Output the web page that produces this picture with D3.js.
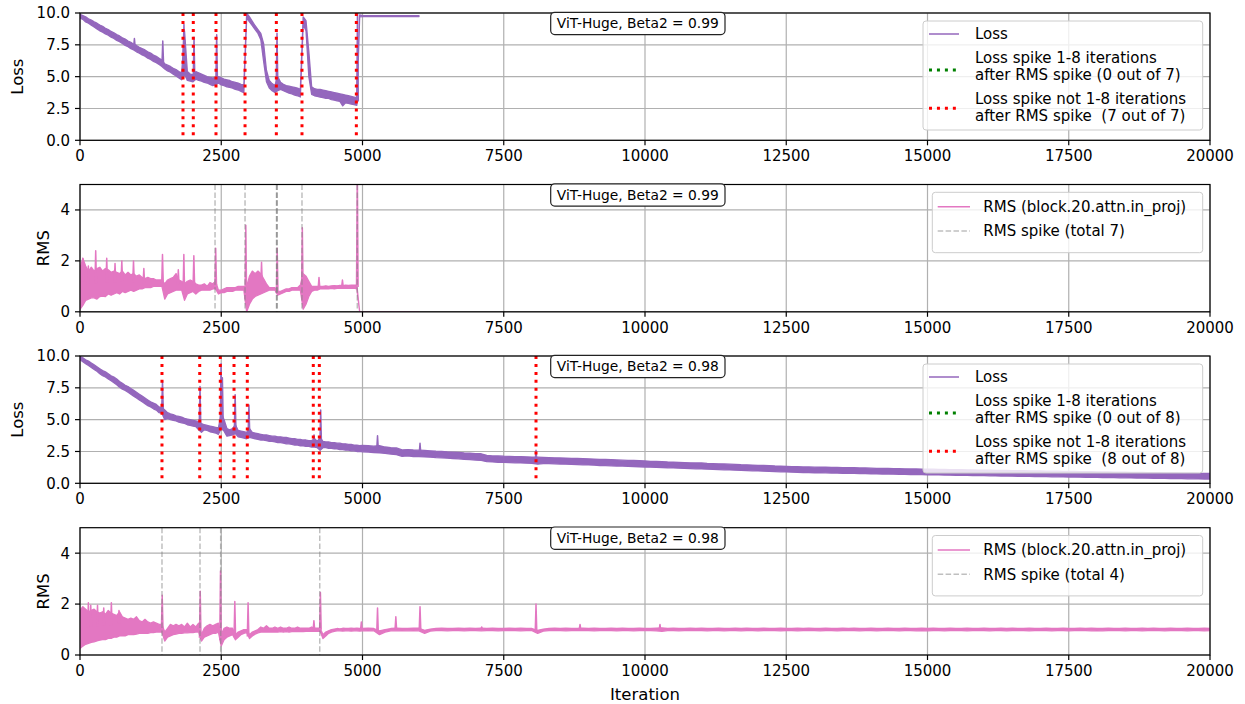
<!DOCTYPE html>
<html>
<head>
<meta charset="utf-8">
<script src="https://cdn.jsdelivr.net/npm/d3@7"></script>
<style>
  body { margin: 0; background: #fff; }
  svg text { font-family: "DejaVu Sans", sans-serif; fill: #000; }
</style>
</head>
<body>
<svg id="chart" width="1245" height="704"></svg>
<script>
// ---------------- data ----------------
// logged steps: the beta2 = 0.99 run stops at 6000, the 0.98 run goes to 20000
const itersA = d3.range(0, 6001, 50);
const itersB = d3.range(0, 5000, 50).concat(d3.range(5000, 20001, 100));

// ViT-Huge, beta2 = 0.99 : loss band (min / max per logging bucket)
const lossA_lo = [
  9.60, 9.50, 9.30, 9.20, 9.05, 8.90, 8.75, 8.60, 8.50, 8.35,
  8.25, 8.10, 8.00, 7.85, 7.75, 7.60, 7.45, 7.35, 7.20, 7.10,
  6.95, 6.85, 6.70, 6.60, 6.45, 6.35, 6.20, 6.10, 5.95, 5.80,
  5.60, 5.45, 5.35, 5.20, 5.05, 4.90, 4.75, 5.20, 4.70, 4.65,
  4.60, 4.80, 4.70, 4.65, 4.55, 4.50, 4.40, 4.30, 4.35, 4.50,
  4.35, 4.30, 4.20, 4.15, 4.10, 4.00, 3.95, 3.85, 3.75, 9.60,
  9.30, 9.00, 8.70, 8.40, 7.90, 6.20, 4.60, 4.10, 3.90, 3.75,
  3.90, 4.00, 3.90, 3.80, 3.70, 3.65, 3.55, 3.50, 3.40, 9.10,
  8.60, 5.00, 3.60, 3.50, 3.45, 3.40, 3.35, 3.30, 3.30, 3.20,
  3.15, 3.10, 3.05, 2.70, 2.95, 2.90, 2.85, 2.80, 2.75, 9.70,
  9.72, 9.73, 9.72, 9.72, 9.73, 9.72, 9.72, 9.73, 9.72, 9.72,
  9.73, 9.72, 9.72, 9.73, 9.72, 9.72, 9.73, 9.72, 9.72, 9.73, 9.72
];
const lossA_hi = [
  9.90, 9.80, 9.70, 9.55, 9.45, 9.30, 9.20, 9.05, 8.95, 8.80,
  8.70, 8.55, 8.45, 8.30, 8.20, 8.05, 7.95, 7.80, 7.70, 7.55,
  7.45, 7.30, 7.20, 7.10, 6.95, 6.85, 6.70, 6.60, 6.45, 6.30,
  6.00, 5.90, 5.80, 5.65, 5.55, 5.40, 5.30, 8.60, 5.40, 5.20,
  5.15, 5.40, 5.30, 5.20, 5.10, 5.00, 4.95, 4.90, 4.95, 5.00,
  4.90, 4.80, 4.75, 4.70, 4.60, 4.55, 4.50, 4.40, 4.35, 10.0,
  9.70, 9.35, 9.00, 8.70, 8.40, 7.60, 5.50, 4.70, 4.45, 4.30,
  5.00, 4.55, 4.40, 4.30, 4.25, 4.20, 4.15, 4.10, 4.00, 9.70,
  9.40, 7.00, 4.20, 4.05, 4.00, 4.00, 3.95, 3.90, 3.85, 3.80,
  3.75, 3.70, 3.65, 3.60, 3.55, 3.50, 3.45, 3.40, 3.35, 9.85,
  9.79, 9.80, 9.79, 9.79, 9.80, 9.79, 9.79, 9.80, 9.79, 9.79,
  9.80, 9.79, 9.79, 9.80, 9.79, 9.79, 9.80, 9.79, 9.79, 9.80, 9.79
];
const lossA_spikeIter = [473, 963, 1465, 1840, 2018, 2419, 3487, 4912];
const lossA_spikePeak = [8.7, 8.0, 7.8, 9.1, 8.1, 8.3, 8.4, 10.4];
// loss spikes that are not 1-8 iterations after an RMS spike
const lossA_spikeMarks = [1823, 2005, 2407, 2921, 3475, 3929, 4891];

// ViT-Huge, beta2 = 0.99 : RMS of block.20.attn.in_proj
const rmsA_lo = [
  0.10, 0.25, 0.45, 0.50, 0.55, 0.55, 0.50, 0.60, 0.62, 0.60,
  0.70, 0.65, 0.70, 0.75, 0.70, 0.80, 0.75, 0.80, 0.85, 0.80,
  0.85, 0.90, 0.90, 0.95, 0.95, 0.95, 1.00, 1.00, 1.00, 1.00,
  0.50, 0.70, 0.75, 0.80, 0.85, 0.85, 0.85, 0.45, 0.70, 0.75,
  0.80, 0.70, 0.80, 0.85, 0.85, 0.85, 0.85, 0.90, 0.90, 0.70,
  0.75, 0.75, 0.80, 0.80, 0.80, 0.85, 0.85, 0.85, 0.85, 0.00,
  0.30, 0.50, 0.60, 0.65, 0.70, 0.75, 0.80, 0.85, 0.85, 0.85,
  0.65, 0.70, 0.75, 0.80, 0.80, 0.85, 0.85, 0.85, 0.85, 0.10,
  0.30, 0.60, 0.80, 0.85, 0.85, 0.90, 0.90, 0.90, 0.90, 0.92,
  0.90, 0.92, 0.92, 0.93, 0.92, 0.93, 0.92, 0.93, 0.90, 0.00,
  0, 0, 0, 0, 0, 0, 0, 0, 0, 0,
  0, 0, 0, 0, 0, 0, 0, 0, 0, 0, 0
];
const rmsA_hi = [
  1.70, 2.10, 1.80, 1.60, 1.75, 1.60, 1.70, 1.75, 1.60, 1.70,
  1.65, 1.55, 1.60, 1.55, 1.50, 1.60, 1.45, 1.55, 1.45, 1.50,
  1.40, 1.45, 1.35, 1.30, 1.35, 1.30, 1.30, 1.25, 1.25, 1.25,
  1.10, 1.25, 1.30, 1.35, 1.50, 1.25, 1.20, 1.10, 1.20, 1.25,
  1.20, 1.10, 1.05, 1.05, 1.10, 1.00, 1.15, 1.10, 1.20, 0.85,
  0.85, 0.90, 0.95, 0.95, 0.95, 0.95, 1.00, 1.00, 1.00, 1.00,
  1.40, 1.60, 1.50, 1.60, 1.50, 1.30, 1.10, 0.95, 0.95, 0.95,
  0.80, 0.80, 0.85, 0.90, 0.90, 0.95, 0.95, 0.95, 1.05, 1.50,
  1.40, 1.20, 1.00, 1.00, 1.00, 1.00, 1.00, 1.02, 1.00, 1.02,
  1.03, 1.02, 1.04, 1.03, 1.05, 1.04, 1.05, 1.05, 1.05, 0.00,
  0, 0, 0, 0, 0, 0, 0, 0, 0, 0,
  0, 0, 0, 0, 0, 0, 0, 0, 0, 0, 0
];
const rmsA_spikeIter = [50, 148, 278, 473, 620, 740, 947, 1130, 1460, 1740, 1838, 2015, 2402, 2935, 3213, 3490, 3935, 4230, 4645, 4908];
const rmsA_spikePeak = [2.1, 1.8, 2.4, 2.1, 1.9, 2.0, 2.0, 1.7, 2.25, 1.65, 2.25, 2.2, 2.5, 3.4, 1.95, 2.5, 3.3, 1.35, 1.25, 5.6];
const rmsA_spikeMarks = [2390, 2921, 3478, 3484, 3490, 3929, 4908];

// ViT-Huge, beta2 = 0.98 : loss band
const lossB_lo = [
  9.70, 9.55, 9.40, 9.25, 9.10, 8.95, 8.80, 8.60, 8.45, 8.35,
  8.20, 8.05, 7.90, 7.75, 7.55, 7.40, 7.30, 7.15, 7.00, 6.85,
  6.70, 6.55, 6.40, 6.25, 6.10, 6.00, 5.85, 5.75, 5.55, 5.50,
  5.00, 5.10, 5.00, 4.95, 4.90, 4.80, 4.75, 4.70, 4.60, 4.55,
  4.50, 4.45, 4.20, 4.00, 4.20, 4.15, 4.05, 4.00, 3.95, 3.85,
  4.30, 4.10, 3.70, 3.75, 3.80, 3.90, 3.65, 3.60, 3.55, 3.50,
  3.60, 3.55, 3.50, 3.45, 3.40, 3.40, 3.35, 3.30, 3.30, 3.25,
  3.20, 3.20, 3.15, 3.10, 3.10, 3.05, 3.00, 3.00, 2.95, 2.95,
  2.90, 2.90, 2.85, 2.85, 2.80, 2.60, 2.80, 2.80, 2.75, 2.75,
  2.70, 2.70, 2.65, 2.65, 2.60, 2.60, 2.55, 2.55, 2.50, 2.50,
  2.47, 2.45, 2.42, 2.40, 2.35, 2.30, 2.25, 2.12, 2.15, 2.10,
  2.10, 2.07, 2.05, 2.02, 2.00, 1.97, 1.95, 1.92, 1.88, 1.86,
  1.83, 1.80, 1.70, 1.68, 1.65, 1.64, 1.63, 1.61, 1.60, 1.58,
  1.57, 1.50, 1.55, 1.54, 1.53, 1.51, 1.50, 1.48, 1.47, 1.45,
  1.44, 1.42, 1.40, 1.39, 1.37, 1.36, 1.35, 1.33, 1.31, 1.30,
  1.28, 1.27, 1.25, 1.24, 1.22, 1.21, 1.19, 1.17, 1.16, 1.14,
  1.13, 1.11, 1.10, 1.08, 1.06, 1.05, 1.03, 1.02, 1.00, 0.98,
  0.97, 0.95, 0.93, 0.92, 0.90, 0.89, 0.87, 0.86, 0.85, 0.84,
  0.83, 0.83, 0.82, 0.81, 0.80, 0.79, 0.78, 0.78, 0.77, 0.76,
  0.75, 0.74, 0.73, 0.73, 0.72, 0.71, 0.70, 0.69, 0.69, 0.68,
  0.67, 0.66, 0.66, 0.65, 0.64, 0.63, 0.63, 0.62, 0.61, 0.60,
  0.60, 0.59, 0.58, 0.57, 0.57, 0.56, 0.55, 0.55, 0.54, 0.53,
  0.53, 0.52, 0.51, 0.51, 0.50, 0.49, 0.49, 0.48, 0.47, 0.47,
  0.46, 0.45, 0.45, 0.44, 0.43, 0.43, 0.42, 0.41, 0.41, 0.40,
  0.39, 0.39, 0.38, 0.37, 0.37, 0.36, 0.35, 0.35, 0.34, 0.33,
  0.33
];
const lossB_hi = [
  9.95, 9.85, 9.70, 9.60, 9.45, 9.30, 9.15, 9.00, 8.85, 8.75,
  8.60, 8.45, 8.35, 8.20, 8.00, 7.85, 7.70, 7.60, 7.45, 7.30,
  7.15, 7.00, 6.85, 6.70, 6.55, 6.40, 6.30, 6.20, 6.00, 5.95,
  5.75, 5.55, 5.45, 5.40, 5.30, 5.25, 5.20, 5.10, 5.05, 5.00,
  4.95, 4.90, 4.85, 4.70, 4.60, 4.55, 4.50, 4.45, 4.40, 4.35,
  5.50, 5.00, 4.30, 4.20, 4.30, 4.60, 4.15, 4.10, 4.05, 4.00,
  4.30, 4.00, 3.95, 3.90, 3.85, 3.80, 3.80, 3.75, 3.70, 3.70,
  3.65, 3.65, 3.60, 3.60, 3.55, 3.50, 3.50, 3.45, 3.45, 3.40,
  3.40, 3.35, 3.35, 3.50, 3.30, 3.60, 3.30, 3.25, 3.25, 3.20,
  3.20, 3.15, 3.15, 3.10, 3.10, 3.05, 3.05, 3.00, 3.00, 2.95,
  2.97, 2.95, 2.92, 2.95, 2.85, 2.80, 2.78, 2.62, 2.65, 2.62,
  2.60, 2.58, 2.55, 2.52, 2.50, 2.47, 2.45, 2.42, 2.38, 2.36,
  2.33, 2.32, 2.20, 2.15, 2.15, 2.13, 2.12, 2.10, 2.10, 2.08,
  2.06, 2.05, 2.04, 2.02, 2.00, 1.99, 1.98, 1.96, 1.95, 1.94,
  1.92, 1.90, 1.88, 1.87, 1.86, 1.84, 1.82, 1.80, 1.79, 1.77,
  1.75, 1.73, 1.72, 1.70, 1.68, 1.67, 1.65, 1.63, 1.61, 1.60,
  1.60, 1.57, 1.55, 1.53, 1.52, 1.50, 1.48, 1.46, 1.45, 1.43,
  1.41, 1.40, 1.38, 1.36, 1.35, 1.33, 1.31, 1.30, 1.29, 1.28,
  1.27, 1.26, 1.26, 1.25, 1.24, 1.23, 1.22, 1.22, 1.21, 1.20,
  1.19, 1.18, 1.18, 1.17, 1.16, 1.15, 1.14, 1.13, 1.13, 1.12,
  1.12, 1.11, 1.10, 1.09, 1.08, 1.08, 1.07, 1.06, 1.05, 1.04,
  1.04, 1.03, 1.02, 1.01, 1.01, 1.00, 0.99, 0.99, 0.98, 0.97,
  0.97, 0.96, 0.95, 0.95, 0.94, 0.93, 0.93, 0.92, 0.91, 0.91,
  0.90, 0.89, 0.89, 0.88, 0.87, 0.87, 0.86, 0.85, 0.85, 0.84,
  0.83, 0.83, 0.82, 0.81, 0.81, 0.80, 0.79, 0.79, 0.78, 0.78,
  0.78
];
const lossB_spikeIter = [1460, 2124, 2497, 2520, 2746, 2990, 4142, 4260, 5266, 6018, 8071];
const lossB_spikePeak = [8.05, 7.6, 9.4, 8.3, 6.95, 6.15, 3.8, 5.75, 3.74, 3.14, 2.6];
const lossB_spikeMarks = [1451, 2119, 2483, 2726, 2961, 4129, 4236, 8071];

// ViT-Huge, beta2 = 0.98 : RMS of block.20.attn.in_proj
const rmsB_lo = [
  0.25, 0.35, 0.42, 0.46, 0.50, 0.52, 0.55, 0.58, 0.60, 0.60,
  0.65, 0.65, 0.70, 0.70, 0.75, 0.75, 0.75, 0.80, 0.80, 0.80,
  0.82, 0.85, 0.85, 0.85, 0.85, 0.88, 0.88, 0.90, 0.90, 0.90,
  0.55, 0.70, 0.75, 0.80, 0.82, 0.85, 0.85, 0.87, 0.87, 0.88,
  0.88, 0.90, 0.90, 0.55, 0.70, 0.75, 0.80, 0.85, 0.85, 0.90,
  0.35, 0.60, 0.70, 0.75, 0.80, 0.60, 0.70, 0.80, 0.85, 0.88,
  0.65, 0.75, 0.82, 0.87, 0.90, 0.90, 0.90, 0.90, 0.90, 0.90,
  0.90, 0.92, 0.90, 0.92, 0.90, 0.92, 0.92, 0.92, 0.93, 0.92,
  0.93, 0.93, 0.93, 0.93, 0.93, 0.93, 0.65, 0.75, 0.85, 0.90,
  0.93, 0.95, 0.95, 0.94, 0.95, 0.95, 0.94, 0.95, 0.95, 0.94,
  0.95, 0.96, 0.95, 0.80, 0.90, 0.95, 0.95, 0.96, 0.95, 0.96,
  0.95, 0.85, 0.94, 0.96, 0.96, 0.95, 0.96, 0.96, 0.95, 0.96,
  0.96, 0.95, 0.96, 0.96, 0.95, 0.96, 0.96, 0.96, 0.95, 0.96,
  0.96, 0.85, 0.94, 0.96, 0.96, 0.96, 0.95, 0.96, 0.96, 0.96,
  0.96, 0.95, 0.96, 0.96, 0.96, 0.95, 0.96, 0.96, 0.95, 0.96,
  0.96, 0.96, 0.95, 0.93, 0.96, 0.96, 0.95, 0.96, 0.96, 0.96,
  0.96, 0.95, 0.96, 0.96, 0.95, 0.96, 0.96, 0.95, 0.96, 0.96,
  0.95, 0.96, 0.96, 0.96, 0.95, 0.96, 0.96, 0.95, 0.96, 0.96,
  0.96, 0.95, 0.96, 0.96, 0.95, 0.96, 0.96, 0.96, 0.95, 0.96,
  0.96, 0.95, 0.96, 0.96, 0.96, 0.95, 0.96, 0.96, 0.95, 0.96,
  0.95, 0.96, 0.96, 0.95, 0.96, 0.96, 0.96, 0.95, 0.96, 0.96,
  0.96, 0.95, 0.96, 0.96, 0.95, 0.96, 0.96, 0.96, 0.95, 0.96,
  0.96, 0.96, 0.95, 0.96, 0.96, 0.95, 0.96, 0.96, 0.96, 0.95,
  0.96, 0.95, 0.96, 0.96, 0.96, 0.95, 0.96, 0.96, 0.95, 0.96,
  0.96, 0.96, 0.95, 0.96, 0.96, 0.96, 0.95, 0.96, 0.96, 0.95,
  0.96
];
const rmsB_hi = [
  1.75, 1.90, 1.80, 1.70, 1.75, 1.80, 1.70, 1.65, 1.70, 1.60,
  1.75, 1.65, 1.60, 1.55, 1.70, 1.50, 1.45, 1.40, 1.45, 1.40,
  1.50, 1.35, 1.30, 1.40, 1.30, 1.25, 1.30, 1.25, 1.20, 1.20,
  0.90, 1.05, 1.20, 1.15, 1.20, 1.15, 1.20, 1.10, 1.25, 1.10,
  1.20, 1.10, 1.25, 0.80, 1.05, 1.15, 1.20, 1.15, 1.20, 1.25,
  0.80, 1.05, 1.10, 1.05, 1.05, 0.80, 0.90, 0.95, 1.00, 1.00,
  0.80, 0.90, 0.95, 1.00, 1.10, 1.05, 1.15, 1.05, 1.05, 1.10,
  1.05, 1.10, 1.05, 1.05, 1.10, 1.05, 1.05, 1.10, 1.05, 1.05,
  1.05, 1.05, 1.10, 1.05, 1.05, 1.05, 0.80, 0.90, 0.95, 1.00,
  1.02, 1.04, 1.03, 1.05, 1.04, 1.04, 1.05, 1.04, 1.05, 1.04,
  1.04, 1.05, 1.04, 0.95, 1.00, 1.04, 1.05, 1.04, 1.04, 1.05,
  1.05, 0.97, 1.02, 1.04, 1.05, 1.04, 1.04, 1.05, 1.04, 1.05,
  1.04, 1.05, 1.04, 1.05, 1.04, 1.04, 1.05, 1.04, 1.05, 1.04,
  1.04, 0.97, 1.02, 1.04, 1.05, 1.04, 1.05, 1.04, 1.04, 1.05,
  1.04, 1.05, 1.04, 1.04, 1.05, 1.04, 1.05, 1.04, 1.04, 1.05,
  1.04, 1.04, 1.05, 1.06, 1.04, 1.05, 1.04, 1.04, 1.05, 1.04,
  1.05, 1.04, 1.04, 1.05, 1.04, 1.04, 1.05, 1.04, 1.05, 1.04,
  1.04, 1.05, 1.04, 1.04, 1.05, 1.04, 1.04, 1.05, 1.04, 1.05,
  1.04, 1.04, 1.05, 1.04, 1.04, 1.05, 1.04, 1.05, 1.04, 1.04,
  1.05, 1.04, 1.04, 1.05, 1.04, 1.04, 1.05, 1.04, 1.04, 1.05,
  1.04, 1.05, 1.04, 1.04, 1.05, 1.04, 1.04, 1.05, 1.04, 1.04,
  1.05, 1.04, 1.04, 1.05, 1.04, 1.05, 1.04, 1.04, 1.05, 1.04,
  1.04, 1.05, 1.04, 1.04, 1.05, 1.04, 1.04, 1.05, 1.04, 1.05,
  1.04, 1.04, 1.05, 1.04, 1.04, 1.05, 1.04, 1.04, 1.05, 1.04,
  1.05, 1.04, 1.04, 1.05, 1.04, 1.04, 1.05, 1.04, 1.04, 1.05,
  1.04
];
const rmsB_spikeIter = [148, 190, 310, 420, 555, 690, 1455, 2128, 2487, 2740, 2975, 4140, 4255, 4980, 5266, 5590, 6018, 7110, 8071, 8850, 10265];
const rmsB_spikePeak = [2.05, 1.95, 1.95, 1.85, 2.05, 1.75, 2.35, 2.5, 3.3, 2.1, 2.05, 1.35, 2.45, 1.3, 1.85, 1.5, 1.9, 1.1, 2.0, 1.2, 1.2];
const rmsB_spikeMarks = [1451, 2124, 2490, 4243];

// tick labels
const xTicks = [0, 2500, 5000, 7500, 10000, 12500, 15000, 17500, 20000];
const lossTicks = [0, 2.5, 5, 7.5, 10];
const rmsTicks = [0, 2, 4];

// ---------------- drawing ----------------
const PURPLE = "#9467bd", PINK = "#e377c2";
const svg = d3.select("#chart");
const X0 = 80, X1 = 1210, PH = 127.3;
const x = d3.scaleLinear().domain([0, 20000]).range([X0, X1]);

const panels = [
  { top: 13,    type: "loss", beta: "0.99", iters: itersA, lo: lossA_lo, hi: lossA_hi,
    sIter: lossA_spikeIter, sPeak: lossA_spikePeak, marks: lossA_spikeMarks },
  { top: 184.5, type: "rms",  beta: "0.99", iters: itersA, lo: rmsA_lo, hi: rmsA_hi,
    sIter: rmsA_spikeIter, sPeak: rmsA_spikePeak, marks: rmsA_spikeMarks },
  { top: 356,   type: "loss", beta: "0.98", iters: itersB, lo: lossB_lo, hi: lossB_hi,
    sIter: lossB_spikeIter, sPeak: lossB_spikePeak, marks: lossB_spikeMarks },
  { top: 527.7, type: "rms",  beta: "0.98", iters: itersB, lo: rmsB_lo, hi: rmsB_hi,
    sIter: rmsB_spikeIter, sPeak: rmsB_spikePeak, marks: rmsB_spikeMarks }
];

panels.forEach((p, pi) => {
  const isLoss = p.type === "loss";
  const color = isLoss ? PURPLE : PINK;
  const y = d3.scaleLinear().domain(isLoss ? [0, 10] : [0, 5]).range([p.top + PH, p.top]);
  const yTicks = isLoss ? lossTicks : rmsTicks;
  const fmt = isLoss ? d3.format(".1f") : d3.format("d");
  const g = svg.append("g");

  const clipId = "clip" + pi;
  g.append("clipPath").attr("id", clipId).append("rect")
    .attr("x", X0).attr("y", p.top).attr("width", X1 - X0).attr("height", PH);

  // grid
  g.append("g").selectAll("line").data(xTicks).join("line")
    .attr("x1", d => x(d)).attr("x2", d => x(d))
    .attr("y1", p.top).attr("y2", p.top + PH)
    .attr("stroke", "#b0b0b0").attr("stroke-width", 1.2);
  g.append("g").selectAll("line").data(yTicks).join("line")
    .attr("x1", X0).attr("x2", X1)
    .attr("y1", d => y(d)).attr("y2", d => y(d))
    .attr("stroke", "#b0b0b0").attr("stroke-width", 1.2);

  const plot = g.append("g").attr("clip-path", `url(#${clipId})`);

  // noisy curve: min/max band per logging bucket
  const area = d3.area()
    .x((d, i) => x(p.iters[i]))
    .y0((d, i) => y(p.lo[i]))
    .y1((d, i) => y(p.hi[i]));
  plot.append("path").datum(p.iters).attr("d", area)
    .attr("fill", color).attr("stroke", color)
    .attr("stroke-width", 1.3).attr("stroke-linejoin", "round");

  // single-step spikes on top of the band
  const bis = d3.bisector(d => d).left;
  const spikeLine = d3.line().x(d => d[0]).y(d => d[1]);
  p.sIter.forEach((t, k) => {
    let j = bis(p.iters, t);
    if (j >= p.iters.length) j = p.iters.length - 1;
    if (j > 0 && (t - p.iters[j - 1]) < (p.iters[j] - t)) j -= 1;
    const base = (p.lo[j] + p.hi[j]) / 2;
    plot.append("path")
      .attr("d", spikeLine([[x(t - 14), y(base)], [x(t), y(p.sPeak[k])], [x(t + 14), y(base)]]))
      .attr("fill", "none").attr("stroke", color).attr("stroke-width", 1.5)
      .attr("stroke-linejoin", "round");
  });

  // spike markers
  plot.append("g").selectAll("line").data(p.marks).join("line")
    .attr("x1", d => x(d)).attr("x2", d => x(d))
    .attr("y1", p.top).attr("y2", p.top + PH)
    .attr("stroke", isLoss ? "#ff0000" : "#808080")
    .attr("stroke-opacity", isLoss ? 1 : 0.5)
    .attr("stroke-width", isLoss ? 3 : 1.5)
    .attr("stroke-dasharray", isLoss ? "3,4.95" : "5.5,2.4");

  // spines
  g.append("rect").attr("x", X0).attr("y", p.top).attr("width", X1 - X0).attr("height", PH)
    .attr("fill", "none").attr("stroke", "#000").attr("stroke-width", 1.2);

  // ticks
  const bottom = p.top + PH;
  g.append("g").selectAll("line").data(xTicks).join("line")
    .attr("x1", d => x(d)).attr("x2", d => x(d))
    .attr("y1", bottom).attr("y2", bottom + 5)
    .attr("stroke", "#000").attr("stroke-width", 1.2);
  g.append("g").selectAll("text").data(xTicks).join("text")
    .attr("x", d => x(d)).attr("y", bottom + 21)
    .attr("text-anchor", "middle").attr("font-size", "15px")
    .text(d => d);
  g.append("g").selectAll("line").data(yTicks).join("line")
    .attr("x1", X0 - 5).attr("x2", X0)
    .attr("y1", d => y(d)).attr("y2", d => y(d))
    .attr("stroke", "#000").attr("stroke-width", 1.2);
  g.append("g").selectAll("text").data(yTicks).join("text")
    .attr("x", X0 - 10).attr("y", d => y(d))
    .attr("dy", "0.36em")
    .attr("text-anchor", "end").attr("font-size", "15px")
    .text(d => fmt(d));

  // y label
  const lx = isLoss ? 17.5 : 43.5;
  g.append("text")
    .attr("transform", `translate(${lx},${p.top + PH / 2}) rotate(-90)`)
    .attr("text-anchor", "middle").attr("dy", "0.36em")
    .attr("font-size", "16.5px")
    .text(isLoss ? "Loss" : "RMS");

  // run annotation
  const ann = g.append("g");
  ann.append("rect").attr("x", 550.7).attr("y", p.top - 0.7)
    .attr("width", 174.3).attr("height", 22.3).attr("rx", 4)
    .attr("fill", "#fff").attr("stroke", "#222").attr("stroke-width", 1.2);
  ann.append("text").attr("x", 637.8).attr("y", p.top + 10.5)
    .attr("dy", "0.36em").attr("text-anchor", "middle").attr("font-size", "13.8px")
    .text(`ViT-Huge, Beta2 = ${p.beta}`);

  // legend
  const lg = g.append("g");
  const txt = (tx, ty, s) => lg.append("text").attr("x", tx).attr("y", ty)
    .attr("dy", "0.36em").attr("font-size", "15px")
    .style("white-space", "pre").text(s);
  if (isLoss) {
    const n = p.marks.length;
    lg.append("rect").attr("x", 923).attr("y", p.top + 8).attr("width", 279.7).attr("height", 109)
      .attr("rx", 3).attr("fill", "#fff").attr("fill-opacity", 0.8)
      .attr("stroke", "#cccccc").attr("stroke-width", 1);
    lg.append("line").attr("x1", 929).attr("x2", 959)
      .attr("y1", p.top + 21).attr("y2", p.top + 21)
      .attr("stroke", PURPLE).attr("stroke-width", 1.5);
    txt(975, p.top + 21, "Loss");
    lg.append("line").attr("x1", 929).attr("x2", 959)
      .attr("y1", p.top + 57).attr("y2", p.top + 57)
      .attr("stroke", "green").attr("stroke-width", 3).attr("stroke-dasharray", "3,4.95");
    txt(975, p.top + 44.7, "Loss spike 1-8 iterations");
    txt(975, p.top + 62, `after RMS spike (0 out of ${n})`);
    lg.append("line").attr("x1", 929).attr("x2", 959)
      .attr("y1", p.top + 95.3).attr("y2", p.top + 95.3)
      .attr("stroke", "red").attr("stroke-width", 3).attr("stroke-dasharray", "3,4.95");
    txt(975, p.top + 85.3, "Loss spike not 1-8 iterations");
    txt(975, p.top + 103, `after RMS spike  (${n} out of ${n})`);
  } else {
    lg.append("rect").attr("x", 932.3).attr("y", p.top + 7.8).attr("width", 270.4).attr("height", 60.4)
      .attr("rx", 3).attr("fill", "#fff").attr("fill-opacity", 0.8)
      .attr("stroke", "#cccccc").attr("stroke-width", 1);
    lg.append("line").attr("x1", 937.7).attr("x2", 970)
      .attr("y1", p.top + 22.2).attr("y2", p.top + 22.2)
      .attr("stroke", PINK).attr("stroke-width", 1.5);
    txt(983.3, p.top + 22.2, "RMS (block.20.attn.in_proj)");
    lg.append("line").attr("x1", 937.7).attr("x2", 970)
      .attr("y1", p.top + 46.5).attr("y2", p.top + 46.5)
      .attr("stroke", "#808080").attr("stroke-opacity", 0.5)
      .attr("stroke-width", 1.5).attr("stroke-dasharray", "5.5,2.4");
    txt(983.3, p.top + 46.5, `RMS spike (total ${p.marks.length})`);
  }
});

// shared x label
svg.append("text").attr("x", (X0 + X1) / 2).attr("y", 694)
  .attr("dy", "0.36em").attr("text-anchor", "middle").attr("font-size", "16.5px")
  .text("Iteration");
</script>
</body>
</html>
